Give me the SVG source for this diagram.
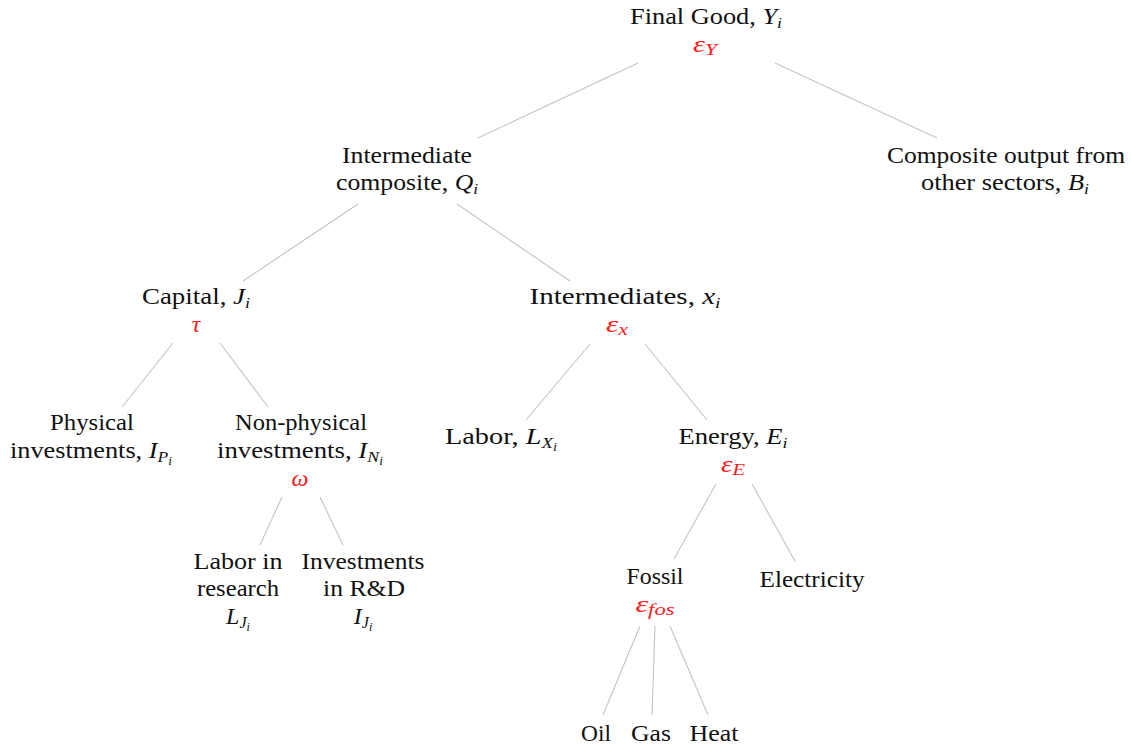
<svg xmlns="http://www.w3.org/2000/svg" width="1131" height="747" viewBox="0 0 1131 747">
<style>
text{font-family:"Liberation Serif","DejaVu Serif",serif;font-size:22.5px;fill:#111;text-anchor:middle}
.m{font-style:italic}
.s{font-size:15px}
.ss{font-size:11.5px}
.r{fill:#ff1a1a;font-style:italic;font-size:24px}
.r .s{font-size:17px}
.big{font-size:24px}
.big .s{font-size:16px}
.big .ss{font-size:12px}
.c line{stroke:#c4c4c4;stroke-width:1.1}
</style>
<rect width="1131" height="747" fill="#fff"/>
<g class="c" id="connectors">
<line x1="638" y1="63" x2="478" y2="138"/>
<line x1="775" y1="63" x2="937" y2="138"/>
<line x1="358" y1="204" x2="243" y2="281"/>
<line x1="457" y1="204" x2="570" y2="281"/>
<line x1="173" y1="343" x2="122" y2="407"/>
<line x1="220" y1="343" x2="268" y2="407"/>
<line x1="590" y1="344" x2="526" y2="420"/>
<line x1="645" y1="344" x2="707" y2="420"/>
<line x1="282" y1="497" x2="260" y2="545"/>
<line x1="320" y1="497" x2="343" y2="545"/>
<line x1="716" y1="484" x2="674" y2="559"/>
<line x1="752" y1="484" x2="795" y2="561"/>
<line x1="640" y1="626" x2="603" y2="715"/>
<line x1="655" y1="626" x2="652" y2="715"/>
<line x1="670" y1="626" x2="708" y2="715"/>
</g>
<g id="final-good">
<text x="706" y="24" textLength="152" lengthAdjust="spacingAndGlyphs">Final Good, <tspan class="m">Y</tspan><tspan class="m s" dy="4">i</tspan></text>
<text x="705" y="52" class="r" textLength="24" lengthAdjust="spacingAndGlyphs">ε<tspan class="s" dy="3">Y</tspan></text>
</g>
<g id="intermediate-composite">
<text x="407" y="163" textLength="130" lengthAdjust="spacingAndGlyphs">Intermediate</text>
<text x="407" y="190" textLength="142" lengthAdjust="spacingAndGlyphs">composite, <tspan class="m">Q</tspan><tspan class="m s" dy="4">i</tspan></text>
</g>
<g id="composite-output">
<text x="1006" y="163" textLength="238" lengthAdjust="spacingAndGlyphs">Composite output from</text>
<text x="1005" y="190" textLength="168" lengthAdjust="spacingAndGlyphs">other sectors, <tspan class="m">B</tspan><tspan class="m s" dy="4">i</tspan></text>
</g>
<g id="capital">
<text x="196" y="304" textLength="108" lengthAdjust="spacingAndGlyphs">Capital, <tspan class="m">J</tspan><tspan class="m s" dy="4">i</tspan></text>
<text x="196" y="332" class="r">τ</text>
</g>
<g id="intermediates">
<text x="625" y="304" textLength="191" lengthAdjust="spacingAndGlyphs">Intermediates, <tspan class="m">x</tspan><tspan class="m s" dy="4">i</tspan></text>
<text x="617" y="332" class="r" textLength="22" lengthAdjust="spacingAndGlyphs">ε<tspan class="s" dy="3">x</tspan></text>
</g>
<g id="physical">
<text x="92" y="430" textLength="84" lengthAdjust="spacingAndGlyphs">Physical</text>
<text x="91" y="458" textLength="162" lengthAdjust="spacingAndGlyphs">investments, <tspan class="m">I</tspan><tspan class="m s" dy="4">P</tspan><tspan class="m ss" dy="3">i</tspan></text>
</g>
<g id="non-physical">
<text x="301" y="430" textLength="132" lengthAdjust="spacingAndGlyphs">Non-physical</text>
<text x="300" y="458" textLength="166" lengthAdjust="spacingAndGlyphs">investments, <tspan class="m">I</tspan><tspan class="m s" dy="4">N</tspan><tspan class="m ss" dy="3">i</tspan></text>
<text x="300" y="486" class="r">ω</text>
</g>
<g id="labor">
<text x="501" y="444" textLength="112" lengthAdjust="spacingAndGlyphs">Labor, <tspan class="m">L</tspan><tspan class="m s" dy="4">X</tspan><tspan class="m ss" dy="3">i</tspan></text>
</g>
<g id="energy">
<text x="733" y="444" textLength="109" lengthAdjust="spacingAndGlyphs">Energy, <tspan class="m">E</tspan><tspan class="m s" dy="4">i</tspan></text>
<text x="733" y="472" class="r" textLength="24" lengthAdjust="spacingAndGlyphs">ε<tspan class="s" dy="3">E</tspan></text>
</g>
<g id="labor-research">
<text x="238" y="569" textLength="89" lengthAdjust="spacingAndGlyphs">Labor in</text>
<text x="238" y="596" textLength="82" lengthAdjust="spacingAndGlyphs">research</text>
<text x="238" y="624" class="big"><tspan class="m">L</tspan><tspan class="m s" dy="4">J</tspan><tspan class="m ss" dy="3">i</tspan></text>
</g>
<g id="investments-rd">
<text x="363" y="569" textLength="123" lengthAdjust="spacingAndGlyphs">Investments</text>
<text x="364" y="596" textLength="82" lengthAdjust="spacingAndGlyphs">in R&amp;D</text>
<text x="363" y="624" class="big"><tspan class="m">I</tspan><tspan class="m s" dy="4">J</tspan><tspan class="m ss" dy="3">i</tspan></text>
</g>
<g id="fossil">
<text x="655" y="584" textLength="57" lengthAdjust="spacingAndGlyphs">Fossil</text>
<text x="655" y="612" class="r" textLength="39" lengthAdjust="spacingAndGlyphs">ε<tspan class="s" dy="3">fos</tspan></text>
</g>
<g id="electricity">
<text x="812" y="587" textLength="105" lengthAdjust="spacingAndGlyphs">Electricity</text>
</g>
<g id="oil"><text x="596" y="741" textLength="30" lengthAdjust="spacingAndGlyphs">Oil</text></g>
<g id="gas"><text x="651" y="741" textLength="40" lengthAdjust="spacingAndGlyphs">Gas</text></g>
<g id="heat"><text x="714" y="741" textLength="49" lengthAdjust="spacingAndGlyphs">Heat</text></g>
</svg>
